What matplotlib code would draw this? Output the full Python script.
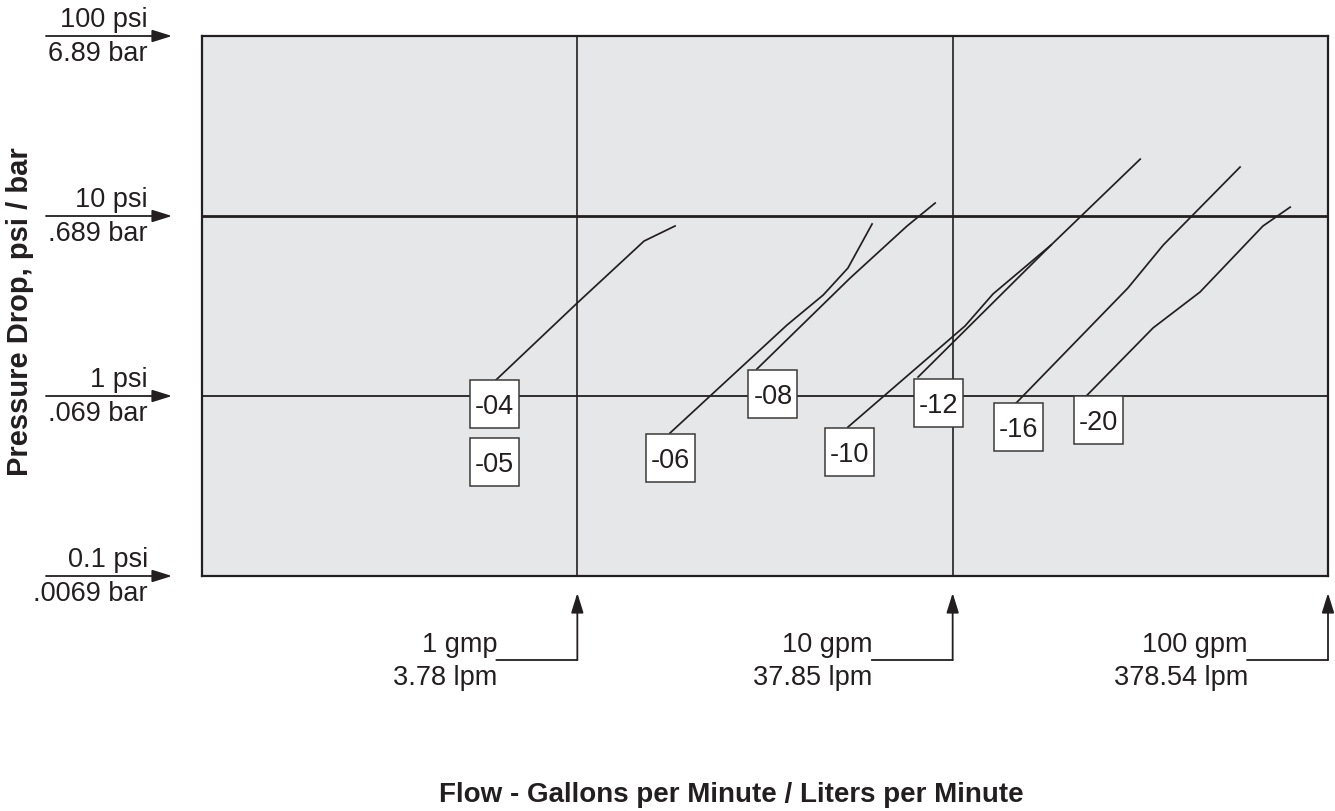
import matplotlib
matplotlib.use("Agg")
import matplotlib.pyplot as plt
from matplotlib.patches import Rectangle
from matplotlib.transforms import ScaledTranslation

plt.rcParams['font.family'] = ['Liberation Sans', 'DejaVu Sans']

# ---------------- data ----------------
# curves: flow (gpm) and pressure drop (psi)
curve_names = ["-04", "-06", "-08", "-10", "-12", "-16", "-20"]
flow_04 = [0.607, 1.0, 1.506, 1.821]
psi_04 = [1.227, 3.29, 7.26, 8.80]
flow_06 = [1.766, 3.62, 4.52, 5.26, 6.10]
psi_06 = [0.623, 2.48, 3.64, 5.14, 9.03]
flow_08 = [3.01, 5.33, 7.56, 8.98]
psi_08 = [1.413, 4.52, 8.80, 11.8]
flow_10 = [5.26, 10.79, 12.81, 18.29]
psi_10 = [0.672, 2.45, 3.69, 6.90]
flow_12 = [8.09, 18.29, 31.6]
psi_12 = [1.275, 6.90, 20.7]
flow_16 = [14.76, 29.3, 36.4, 58.3]
psi_16 = [0.914, 3.98, 6.90, 18.7]
flow_20 = [22.7, 34.2, 45.6, 67.1, 79.3]
psi_20 = [1.0, 2.39, 3.78, 8.80, 11.2]

# size labels (boxed) and where they sit (gpm, psi)
label_names = ["-04", "-05", "-06", "-08", "-10", "-12", "-16", "-20"]
label_flow = [0.600, 0.600, 1.766, 3.32, 5.30, 9.14, 14.94, 24.4]
label_psi = [0.903, 0.430, 0.452, 1.026, 0.488, 0.914, 0.672, 0.735]

# axis reference marks
psi_ticks = [100, 10, 1, 0.1]
psi_top_labels = ["100 psi", "10 psi", "1 psi", "0.1 psi"]
psi_bottom_labels = ["6.89 bar", ".689 bar", ".069 bar", ".0069 bar"]
gpm_ticks = [1, 10, 100]
gpm_top_labels = ["1 gmp", "10 gpm", "100 gpm"]
gpm_bottom_labels = ["3.78 lpm", "37.85 lpm", "378.54 lpm"]

y_title = "Pressure Drop, psi / bar"
x_title = "Flow - Gallons per Minute / Liters per Minute"

# ---------------- figure ----------------
INK = "#231f20"
W, H = 1335, 811
fig = plt.figure(figsize=(W / 100, H / 100), dpi=100)
ax = fig.add_axes([202 / W, 1 - 576 / H, (1328 - 202) / W, (576 - 36) / H])
ax.set_xscale("log")
ax.set_yscale("log")
ax.set_xlim(0.1, 100)
ax.set_ylim(0.1, 100)
ax.set_facecolor("#e6e7e8")
ax.set_xticks([])
ax.set_yticks([])
ax.minorticks_off()
ax.tick_params(which="both", length=0, labelleft=False, labelbottom=False)
for s in ax.spines.values():
    s.set_color(INK)
    s.set_linewidth(1.6)

# grid lines
ax.axhline(10, color=INK, lw=2.0, zorder=1)
ax.axhline(1, color=INK, lw=1.3, zorder=1)
ax.axvline(1, color=INK, lw=1.2, zorder=1)
ax.axvline(10, color=INK, lw=1.2, zorder=1)

flows = [flow_04, flow_06, flow_08, flow_10, flow_12, flow_16, flow_20]
psis = [psi_04, psi_06, psi_08, psi_10, psi_12, psi_16, psi_20]
for f, p in zip(flows, psis):
    ax.plot(f, p, color=INK, lw=1.25, zorder=3, solid_joinstyle="miter")

FS = 19.5
for name, lx, ly in zip(label_names, label_flow, label_psi):
    trans = fig.dpi_scale_trans + ScaledTranslation(lx, ly, ax.transData)
    ax.add_patch(Rectangle((-0.245, -0.24), 0.49, 0.48, transform=trans,
                           facecolor="white", edgecolor="#3a3a3a", lw=1.1,
                           zorder=5, clip_on=False))
    ax.text(lx, ly, name, ha="center", va="center_baseline", fontsize=FS,
            color=INK, zorder=6)

# left reference arrows
ytr = ax.get_yaxis_transform()
x_tip = (172 - 202) / 1126
x_start = (46 - 202) / 1126
x_txt = (148 - 202) / 1126
for v, t1, t2 in zip(psi_ticks, psi_top_labels, psi_bottom_labels):
    ax.annotate("", xy=(x_tip, v), xycoords=ytr, xytext=(x_start, v),
                textcoords=ytr, annotation_clip=False,
                arrowprops=dict(arrowstyle="-|>,head_length=0.8,head_width=0.25",
                                mutation_scale=15, color=INK, lw=1.3,
                                shrinkA=0, shrinkB=0))
    ax.annotate(t1, xy=(x_txt, v), xycoords=ytr, xytext=(0, 9),
                textcoords="offset pixels", ha="right", va="baseline",
                fontsize=FS, color=INK, annotation_clip=False)
    ax.annotate(t2, xy=(x_txt, v), xycoords=ytr, xytext=(0, -25),
                textcoords="offset pixels", ha="right", va="baseline",
                fontsize=FS, color=INK, annotation_clip=False)

# bottom reference arrows
xtr = ax.get_xaxis_transform()
y_base = (576 - 660) / 540
y_tip = (576 - 593) / 540
for v, t1, t2 in zip(gpm_ticks, gpm_top_labels, gpm_bottom_labels):
    ax.annotate("", xy=(v, y_tip), xycoords=xtr, xytext=(v, y_base),
                textcoords=xtr, annotation_clip=False,
                arrowprops=dict(arrowstyle="-|>,head_length=0.8,head_width=0.25",
                                mutation_scale=15, color=INK, lw=1.3,
                                shrinkA=0, shrinkB=0))
    ax.annotate("", xy=(v, y_base), xycoords=xtr, xytext=(-81, 0),
                textcoords="offset pixels", annotation_clip=False,
                arrowprops=dict(arrowstyle="-", color=INK, lw=1.3,
                                shrinkA=0, shrinkB=0))
    ax.annotate(t1, xy=(v, y_base), xycoords=xtr, xytext=(-80, 8),
                textcoords="offset pixels", ha="right", va="baseline",
                fontsize=FS, color=INK, annotation_clip=False)
    ax.annotate(t2, xy=(v, y_base), xycoords=xtr, xytext=(-80, -25),
                textcoords="offset pixels", ha="right", va="baseline",
                fontsize=FS, color=INK, annotation_clip=False)

fig.text(20 / W, 1 - 312 / H, y_title, rotation=90, ha="center", va="center",
         fontsize=21, fontweight="bold", color=INK)
fig.text(731 / W, 1 - 795 / H, x_title, ha="center", va="center",
         fontsize=20, fontweight="bold", color=INK)

fig.savefig("out.png", dpi=100)
